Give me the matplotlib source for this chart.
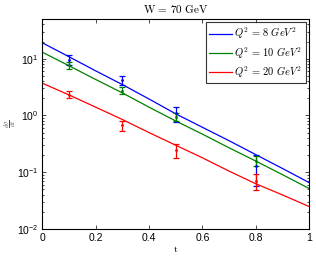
import numpy as np
import matplotlib
matplotlib.use("Agg")
import matplotlib.pyplot as plt
from matplotlib.ticker import LogLocator, NullFormatter

plt.rcParams['font.family'] = ['Liberation Sans', 'DejaVu Sans']
plt.rcParams['mathtext.fontset'] = 'cm'

# curves
t_curve = [0.0, 0.1, 0.2, 0.3, 0.4, 0.5, 0.6, 0.7, 0.8, 0.9, 1.0]
blue_curve = [19.0, 10.8, 6.1, 3.5, 1.95, 1.07, 0.62, 0.36, 0.205, 0.117, 0.066]
green_curve = [13.0, 7.5, 4.3, 2.5, 1.4, 0.80, 0.47, 0.27, 0.158, 0.091, 0.052]
red_curve = [3.7, 2.3, 1.4, 0.85, 0.5, 0.30, 0.18, 0.105, 0.063, 0.04, 0.025]

# data points with error bars
t_pts = [0.1, 0.3, 0.5, 0.8]
blue_pts = [9.5, 4.2, 1.1, 0.13]
blue_lo = [7.6, 3.5, 0.76, 0.058]
blue_hi = [11.5, 5.0, 1.4, 0.20]
green_pts = [7.6, 2.7, 0.95, 0.16]
green_lo = [6.7, 2.4, 0.8, 0.13]
green_hi = [8.7, 3.2, 1.1, 0.19]
red_pts = [2.3, 0.67, 0.245, 0.071]
red_lo = [2.0, 0.54, 0.18, 0.049]
red_hi = [2.7, 0.79, 0.31, 0.093]

labels = [r'$Q^2\,=\,8\ GeV^2$', r'$Q^2\,=\,10\ GeV^2$', r'$Q^2\,=\,20\ GeV^2$']
colors = ['#0000ff', '#008000', '#ff0000']

fig = plt.figure(figsize=(3.16, 2.56), dpi=100)
ax = fig.add_axes([0.134, 0.105, 0.844, 0.821])

curves = [blue_curve, green_curve, red_curve]
pts = [(blue_pts, blue_lo, blue_hi), (green_pts, green_lo, green_hi), (red_pts, red_lo, red_hi)]
for c, lab, col in zip(curves, labels, colors):
    ax.plot(t_curve, c, color=col, lw=0.9, label=lab)
for (p, lo, hi), col in zip(pts, colors):
    p = np.array(p); lo = np.array(lo); hi = np.array(hi)
    ax.errorbar(t_pts, p, yerr=[p - lo, hi - p], fmt='.', ms=2, color=col,
                elinewidth=0.9, capsize=2, capthick=0.9)

ax.set_yscale('log')
ax.set_xlim(0, 1)
ax.set_ylim(0.01, 50)
ax.set_xticks([0, 0.2, 0.4, 0.6, 0.8, 1])
ax.set_xticklabels(['0', '0.2', '0.4', '0.6', '0.8', '1'])
ax.yaxis.set_minor_locator(LogLocator(base=10, subs=np.arange(2, 10)))
ax.yaxis.set_minor_formatter(NullFormatter())
ax.tick_params(which='both', direction='in', top=True, right=True, labelsize=7.5)
ax.tick_params(which='major', length=3, width=0.5, pad=2.5)
ax.tick_params(which='minor', length=1.5, width=0.5)
for s in ax.spines.values():
    s.set_linewidth(0.8)

ax.set_title(r'$\mathrm{W\,=\,70\ GeV}$', fontsize=8, pad=4)
ax.set_xlabel(r'$\mathrm{t}$', fontsize=7, labelpad=1)
ax.set_ylabel(r'$\frac{d\sigma}{dt}$', fontsize=6, color='#444444')
ax.yaxis.set_label_coords(-0.088, 0.5)

leg = ax.legend(loc='upper right', fontsize=7.5, frameon=True, fancybox=False,
                edgecolor='black', handlelength=2.2, handletextpad=0.2,
                borderaxespad=0.3, labelspacing=0.35, borderpad=0.35)
leg.get_frame().set_linewidth(0.8)

fig.savefig('out.png', dpi=100)
